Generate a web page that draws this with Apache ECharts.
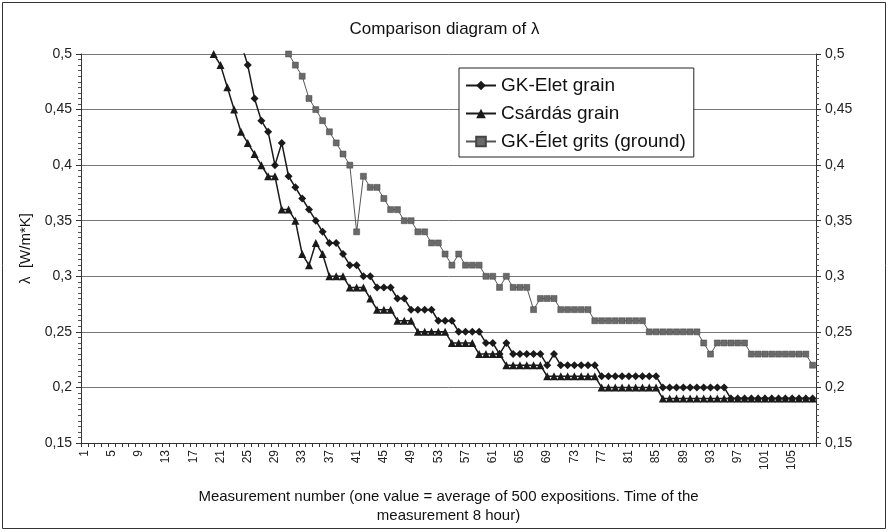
<!DOCTYPE html>
<html>
<head>
<meta charset="utf-8">
<title>Comparison diagram of λ</title>
<script src="https://cdn.jsdelivr.net/npm/echarts@6/dist/echarts.min.js"></script>
<style>
	html, body {
		margin: 0;
		padding: 0;
		background: #fff;
	}
	#chart {
		width: 889px;
		height: 532px;
	}
</style>
</head>
<body>
<div id="chart"></div>
<script>
// measurement numbers 1..108
var categories = Array.from({ length: 108 }, function (v, i) { return String(i + 1) })

// λ values [W/m*K], null = above the visible range / not measured
var gkEletGrain = [
	null, null, null, null, null, null, null, null, null, null,
	null, null, null, null, null, null, null, null, null, null,
	null, null, null, 0.51, 0.49, 0.46, 0.44, 0.43, 0.40, 0.42,
	0.39, 0.38, 0.37, 0.36, 0.35, 0.34, 0.33, 0.33, 0.32, 0.31,
	0.31, 0.30, 0.30, 0.29, 0.29, 0.29, 0.28, 0.28, 0.27, 0.27,
	0.27, 0.27, 0.26, 0.26, 0.26, 0.25, 0.25, 0.25, 0.25, 0.24,
	0.24, 0.23, 0.24, 0.23, 0.23, 0.23, 0.23, 0.23, 0.22, 0.23,
	0.22, 0.22, 0.22, 0.22, 0.22, 0.22, 0.21, 0.21, 0.21, 0.21,
	0.21, 0.21, 0.21, 0.21, 0.21, 0.20, 0.20, 0.20, 0.20, 0.20,
	0.20, 0.20, 0.20, 0.20, 0.20, 0.19, 0.19, 0.19, 0.19, 0.19,
	0.19, 0.19, 0.19, 0.19, 0.19, 0.19, 0.19, 0.19
]

var csardasGrain = [
	null, null, null, null, null, null, null, null, null, null,
	null, null, null, null, null, null, null, null, 0.51, 0.50,
	0.49, 0.47, 0.45, 0.43, 0.42, 0.41, 0.40, 0.39, 0.39, 0.36,
	0.36, 0.35, 0.32, 0.31, 0.33, 0.32, 0.30, 0.30, 0.30, 0.29,
	0.29, 0.29, 0.28, 0.27, 0.27, 0.27, 0.26, 0.26, 0.26, 0.25,
	0.25, 0.25, 0.25, 0.25, 0.24, 0.24, 0.24, 0.24, 0.23, 0.23,
	0.23, 0.23, 0.22, 0.22, 0.22, 0.22, 0.22, 0.22, 0.21, 0.21,
	0.21, 0.21, 0.21, 0.21, 0.21, 0.21, 0.20, 0.20, 0.20, 0.20,
	0.20, 0.20, 0.20, 0.20, 0.20, 0.19, 0.19, 0.19, 0.19, 0.19,
	0.19, 0.19, 0.19, 0.19, 0.19, 0.19, 0.19, 0.19, 0.19, 0.19,
	0.19, 0.19, 0.19, 0.19, 0.19, 0.19, 0.19, 0.19
]

var gkEletGrits = [
	null, null, null, null, null, null, null, null, null, null,
	null, null, null, null, null, null, null, null, null, null,
	null, null, null, null, null, null, null, null, null, 0.51,
	0.50, 0.49, 0.48, 0.46, 0.45, 0.44, 0.43, 0.42, 0.41, 0.40,
	0.34, 0.39, 0.38, 0.38, 0.37, 0.36, 0.36, 0.35, 0.35, 0.34,
	0.34, 0.33, 0.33, 0.32, 0.31, 0.32, 0.31, 0.31, 0.31, 0.30,
	0.30, 0.29, 0.30, 0.29, 0.29, 0.29, 0.27, 0.28, 0.28, 0.28,
	0.27, 0.27, 0.27, 0.27, 0.27, 0.26, 0.26, 0.26, 0.26, 0.26,
	0.26, 0.26, 0.26, 0.25, 0.25, 0.25, 0.25, 0.25, 0.25, 0.25,
	0.25, 0.24, 0.23, 0.24, 0.24, 0.24, 0.24, 0.24, 0.23, 0.23,
	0.23, 0.23, 0.23, 0.23, 0.23, 0.23, 0.23, 0.22
]

var seriesNames = ['GK-Elet grain', 'Csárdás grain', 'GK-Élet grits (ground)']

var font = 'Liberation Sans, Arial, sans-serif'

// y tick labels use decimal comma
function commaLabel(v) {
	return String(Math.round(v * 100) / 100).replace('.', ',')
}

var yAxisBase = {
	type: 'value',
	min: 0.15,
	max: 0.5,
	interval: 0.05,
	axisLine: { show: true, lineStyle: { color: '#333', width: 1 } },
	axisTick: { show: true, length: 5, lineStyle: { color: '#333' } },
	minorTick: { show: true, splitNumber: 10, length: 3, lineStyle: { color: '#555' } },
	axisLabel: {
		formatter: commaLabel,
		color: '#222',
		fontFamily: font,
		fontSize: 14,
		margin: 9
	}
}

var chart = echarts.init(document.getElementById('chart'))

var option = {
	backgroundColor: '#fff',
	animation: false,
	title: {
		text: 'Comparison diagram of λ',
		left: 'center',
		top: 16,
		textStyle: { fontFamily: font, fontSize: 17, fontWeight: 'normal', color: '#111' }
	},
	legend: {
		data: seriesNames,
		orient: 'vertical',
		left: 459,
		top: 68,
		padding: [8, 8, 6, 6],
		itemGap: 9,
		itemWidth: 30,
		itemHeight: 12,
		borderColor: '#222',
		borderWidth: 1,
		backgroundColor: '#fff',
		textStyle: { fontFamily: font, fontSize: 19, color: '#111' }
	},
	grid: {
		left: 81,
		right: 73,
		top: 54,
		bottom: 89
	},
	xAxis: {
		type: 'category',
		data: categories,
		boundaryGap: true,
		name: 'Measurement number (one value = average of 500 expositions. Time of the\nmeasurement 8 hour)',
		nameLocation: 'middle',
		nameGap: 44,
		nameTextStyle: { fontFamily: font, fontSize: 15, color: '#111', lineHeight: 19 },
		axisLine: { lineStyle: { color: '#333', width: 1 } },
		axisTick: { show: true, interval: 0, length: 4, lineStyle: { color: '#333' } },
		axisLabel: {
			interval: 3,
			rotate: 90,
			color: '#222',
			fontFamily: font,
			fontSize: 12,
			margin: 7
		},
		splitLine: { show: false }
	},
	yAxis: [
		Object.assign({}, yAxisBase, {
			position: 'left',
			name: 'λ  [W/m*K]',
			nameLocation: 'middle',
			nameGap: 46,
			nameTextStyle: { fontFamily: font, fontSize: 15, color: '#111' },
			splitLine: { show: true, lineStyle: { color: '#777', width: 1 } }
		}),
		Object.assign({}, yAxisBase, {
			position: 'right',
			splitLine: { show: false }
		})
	],
	series: [
		{
			name: seriesNames[0],
			type: 'line',
			data: gkEletGrain,
			z: 4,
			symbol: 'diamond',
			symbolSize: 8,
			showAllSymbol: true,
			itemStyle: { color: '#1a1a1a' },
			lineStyle: { color: '#1a1a1a', width: 1.5 }
		},
		{
			name: seriesNames[1],
			type: 'line',
			data: csardasGrain,
			z: 3,
			symbol: 'triangle',
			symbolSize: 8,
			showAllSymbol: true,
			itemStyle: { color: '#1a1a1a' },
			lineStyle: { color: '#1a1a1a', width: 1.5 }
		},
		{
			name: seriesNames[2],
			type: 'line',
			data: gkEletGrits,
			z: 2,
			symbol: 'rect',
			symbolSize: 6,
			showAllSymbol: true,
			itemStyle: { color: '#6a6a6a', borderColor: '#444', borderWidth: 0.5 },
			lineStyle: { color: '#555', width: 1 }
		}
	],
	graphic: [
		{
			type: 'rect',
			shape: { x: 2.5, y: 2.5, width: 883, height: 526 },
			style: { fill: 'none', stroke: '#333', lineWidth: 1 },
			silent: true,
			z: -1
		}
	]
}

chart.setOption(option)
</script>
</body>
</html>
